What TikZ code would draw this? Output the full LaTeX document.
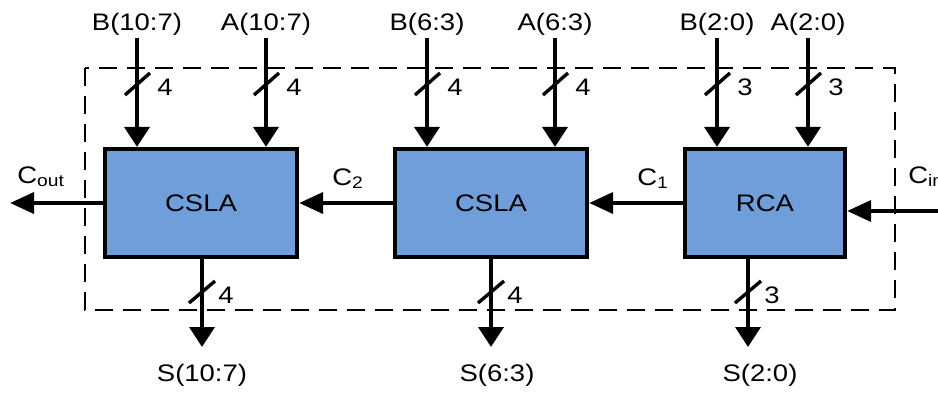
\documentclass[tikz,border=0pt]{standalone}
\usepackage{fontspec}
\setmainfont{Liberation Sans}[FakeStretch=1.15]
\usetikzlibrary{calc,arrows.meta}
\definecolor{bblue}{RGB}{112,158,218}
\newcommand{\fs}{\fontsize{17}{20}\selectfont}
\tikzset{
  blk/.style={draw,line width=3pt,fill=bblue,inner sep=0pt,font=\fs,minimum height=27mm},
  vsig/.style={line width=3pt,-{Triangle[length=5mm,width=6.2mm]}},
  hsig/.style={line width=3pt,-{Triangle[length=6mm,width=5.2mm]}},
  txt/.style={inner sep=0pt,font=\fs},
  slash/.style={line width=2.4pt},
}
% bus into a block: x, name, label, width, block
\newcommand{\busin}[5]{
\node[txt,anchor=base] (#2) at (#1,30) {#3};
\coordinate (#2s) at (#1,38);
\draw[vsig] (#2s) -- (#2s |- #5.north);
\draw[slash] ($(#1,84)+(-12,11)$) -- ($(#1,84)+(13,-11)$);
\node[txt,anchor=base] (#2w) at ($(#1,95)+(28,0)$) {#4};
}
% bus out of a block: x, name, label, width, block, label x
\newcommand{\busout}[6]{
\coordinate (#2e) at (#1,347);
\draw[vsig] (#2e |- #5.south) -- (#2e);
\draw[slash] ($(#1,292)+(-13,11)$) -- ($(#1,292)+(13,-11)$);
\node[txt,anchor=base] (#2w) at ($(#1,303)+(24,0)$) {#4};
\node[txt,anchor=base] (#2) at (#6,381) {#3};
}

\begin{document}
\begin{tikzpicture}[x=0.25mm,y=-0.25mm]
\useasboundingbox (0,0) rectangle (938,392);

% frame round the adder
\draw[line width=1.6pt,dash pattern=on 4.5mm off 2.5mm] (85,68) rectangle (895,310);

% blocks
\node[blk,minimum width=48mm] (cs1) at (201,203) {CSLA};
\node[blk,minimum width=48mm] (cs2) at (491,203) {CSLA};
\node[blk,minimum width=40mm] (rca) at (765,203) {RCA};

% carries
\coordinate (cout) at (10,203);
\coordinate (cin) at (945,211);
\draw[hsig] (cs1.west) -- (cout);
\draw[hsig] (cs2.west) -- (cs1.east);
\draw[hsig] (rca.west) -- (cs2.east);
\draw[hsig] (cin) -- (cin -| rca.east);

\node[txt,anchor=base west] (lcout) at (17,183) {C\textsubscript{out}};
\node[txt,anchor=base west] (lc2) at (332,185) {C\textsubscript{2}};
\node[txt,anchor=base west] (lc1) at (637,185) {C\textsubscript{1}};
\node[txt,anchor=base west] (lcin) at (908,183) {C\textsubscript{in}};

% inputs
\busin{137}{b1}{B(10:7)}{4}{cs1}
\busin{266}{a1}{A(10:7)}{4}{cs1}
\busin{427}{b2}{B(6:3)}{4}{cs2}
\busin{555}{a2}{A(6:3)}{4}{cs2}
\busin{717}{b3}{B(2:0)}{3}{rca}
\busin{808}{a3}{A(2:0)}{3}{rca}

% sums
\busout{202}{s1}{S(10:7)}{4}{cs1}{202}
\busout{491}{s2}{S(6:3)}{4}{cs2}{497}
\busout{748}{s3}{S(2:0)}{3}{rca}{760}
\end{tikzpicture}
\end{document}
